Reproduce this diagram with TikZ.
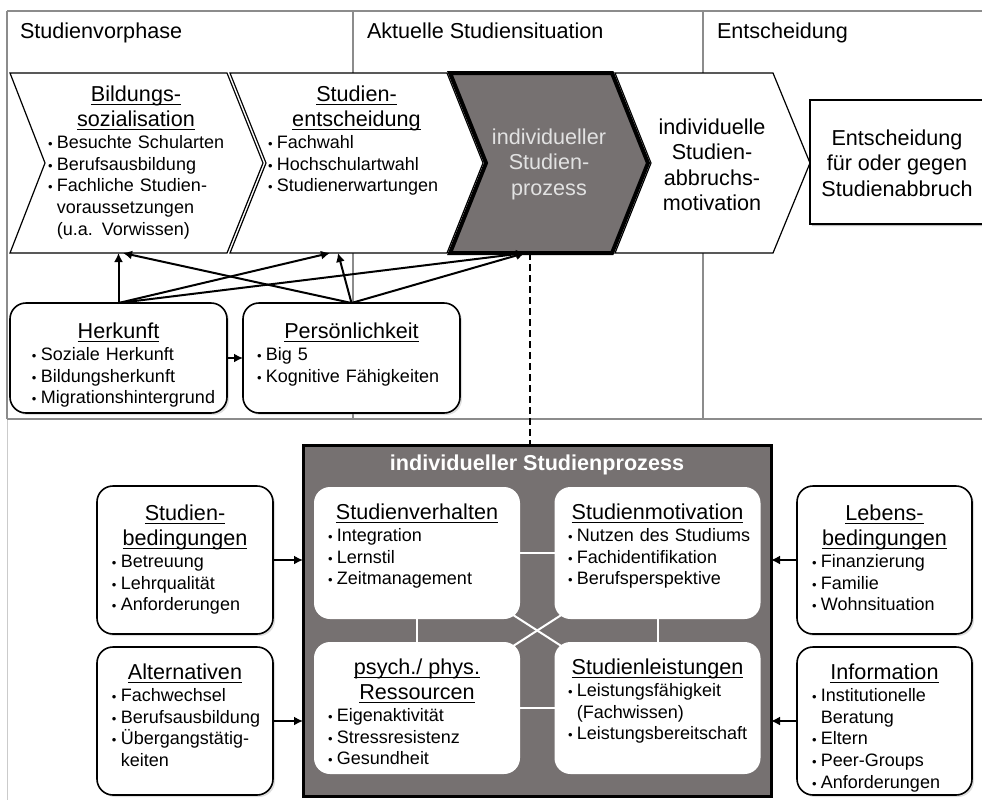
\documentclass[tikz,border=0pt]{standalone}
\usepackage{fontspec}
\setmainfont{Liberation Sans}
\usetikzlibrary{arrows.meta,shadows}

\definecolor{procgray}{HTML}{767171}
\definecolor{framegray}{HTML}{8C8C8C}
\definecolor{proctext}{HTML}{E2E2E2}

\newcommand\itemfont{\fontsize{9}{10.85}\selectfont}
\newcommand\headfont{\fontsize{10.8}{12.75}\selectfont}
\newcommand\blt{{\fontsize{6.5}{6}\selectfont\textbullet}\hspace{2.2pt}}
\newcommand\itm[1]{\mbox{\blt#1}}
\newcommand\cont[1]{\mbox{\phantom{\blt}#1}}
\newcommand\ul[1]{\setbox0\hbox{#1}\rlap{\rule[-1.5pt]{\wd0}{0.5pt}}\box0}
\newcommand\hd[1]{\makebox[\linewidth]{\headfont\ul{#1}}}

\begin{document}
\begin{tikzpicture}[x=0.5pt,y=-0.5pt,
  every node/.style={inner sep=0pt,outer sep=0pt},
  phase/.style={draw=framegray,line width=1.2pt},
  phaselabel/.style={anchor=base west,font=\headfont},
  chev/.style={draw,line width=0.6pt,fill=white,line join=miter},
  curchev/.style={draw,line width=2pt,fill=procgray,line join=miter},
  rbox/.style={draw,line width=0.8pt,fill=white,rounded corners=8pt,
    drop shadow={shadow xshift=1pt,shadow yshift=-1pt,opacity=.25}},
  wbox/.style={fill=white,rounded corners=8pt,minimum width=103pt,minimum height=66pt},
  bigbox/.style={draw,line width=1.5pt,fill=procgray,minimum width=234pt,minimum height=175.5pt},
  content/.style={anchor=north,align=left,font=\itemfont},
  midtext/.style={align=center,font=\headfont},
  conn/.style={line width=1pt,-{Latex[length=4.5pt,width=4.5pt]}},
  link/.style={white,line width=1pt}]
\fill[white] (0,0) rectangle (982,800);
\useasboundingbox (0,0) rectangle (982,800);

% phases
\draw[phase] (7,11) -- (990,11);
\draw[phase] (7,11) -- (7,419);
\draw[phase] (7,419) -- (990,419);
\draw[phase] (353,11) -- (353,419);
\draw[phase] (703,11) -- (703,419);
\draw[framegray!45,line width=0.5pt] (7,420) -- (7,800);
\node[phaselabel] (vorph) at (20,38) {Studienvorphase};
\node[phaselabel] (aktph) at (367,38) {Aktuelle Studiensituation};
\node[phaselabel] (entph) at (717,38) {Entscheidung};

% chevrons
\draw[chev] (10,73) -- (227,73) -- (263,163) -- (227,253) -- (10,253) -- (45,163) -- cycle;
\draw[chev] (230,73) -- (447,73) -- (483,163) -- (447,253) -- (230,253) -- (266,163) -- cycle;
\draw[curchev] (450,73) -- (612,73) -- (648,163) -- (612,253) -- (450,253) -- (486,163) -- cycle;
\draw[chev] (615,73) -- (773,73) -- (810,163) -- (773,253) -- (615,253) -- (651,163) -- cycle;

\node[content,text width=88pt] (bildtxt) at (136,86)
  {\hd{Bildungs-}\\[1.7pt] \hd{sozialisation}\\
   \itm{Besuchte Schularten}\\ \itm{Berufsausbildung}\\ \itm{Fachliche Studien-}\\
   \cont{voraussetzungen}\\ \cont{(u.a. Vorwissen)}};
\node[content,text width=88.5pt] (enttxt) at (356.5,86)
  {\hd{Studien-}\\[1.7pt] \hd{entscheidung}\\
   \itm{Fachwahl}\\ \itm{Hochschulartwahl}\\ \itm{Studienerwartungen}};
\node[midtext,text=proctext] (proctxt) at (549,164) {individueller\\Studien-\\prozess};
\node[midtext] (motivtxt) at (712,165) {individuelle\\Studien-\\abbruchs-\\motivation};
\fill[black!25] (812,226) -- (1010,226) -- (1010,102) -- (811,102) -- cycle;
\fill[white] (810,100) rectangle (1010,224);
\draw[line width=0.8pt] (1010,100) -- (810,100) -- (810,224) -- (1010,224);
\node[midtext] (dectxt) at (897,163) {Entscheidung\\für oder gegen\\Studienabbruch};

% background factors
\node[rbox,minimum width=108.5pt,minimum height=55pt] (herk) at (118.5,358) {};
\node[rbox,minimum width=108.5pt,minimum height=55pt] (pers) at (351.5,358) {};
\node[content,text width=86.5pt] (herktxt) at (118.5,323)
  {\hd{Herkunft}\\ \itm{Soziale Herkunft}\\ \itm{Bildungsherkunft}\\ \itm{Migrationshintergrund}};
\node[content,text width=94.5pt] (perstxt) at (351.5,323)
  {\hd{Persönlichkeit}\\ \itm{Big 5}\\ \itm{Kognitive Fähigkeiten}};

\coordinate (bildin) at (118.5,253);
\coordinate (bildin2) at (123,253);
\coordinate (entin) at (330,253);
\coordinate (entin2) at (338,253);
\coordinate (procin) at (525,253);
\coordinate (procout) at (530,253);
\draw[conn] (herk.north) -- (bildin);
\draw[conn] (herk.north) -- (entin);
\draw[conn] (herk.north) -- (procin);
\draw[conn] (pers.north) -- (bildin2);
\draw[conn] (pers.north) -- (entin2);
\draw[conn] (pers.north) -- (procin);
\draw[conn] (herk.east) -- (pers.west);

% individual study process
\node[bigbox] (proc) at (537,620.5) {};
\draw[line width=1pt,dash pattern=on 3.5pt off 2pt] (procout) -- (procout |- proc.north);
\node[anchor=base,font=\headfont\bfseries,text=white] (proctitle) at (537,470)
  {individueller Studienprozess};

\coordinate (sv) at (417,553);
\coordinate (sm) at (657.5,553);
\coordinate (pr) at (417,708);
\coordinate (sl) at (657.5,708);
\draw[link] (sv) -- (sm);
\draw[link] (pr) -- (sl);
\draw[link] (sv) -- (pr);
\draw[link] (sm) -- (sl);
\draw[link] (sv) -- (sl);
\draw[link] (sm) -- (pr);
\node[wbox] (verh) at (sv) {};
\node[wbox] (motiv) at (sm) {};
\node[wbox] (ress) at (pr) {};
\node[wbox] (leist) at (sl) {};
\node[content,text width=89pt] (verhtxt) at (417,504)
  {\hd{Studienverhalten}\\ \itm{Integration}\\ \itm{Lernstil}\\ \itm{Zeitmanagement}};
\node[content,text width=89.5pt] (motivtxt2) at (657.5,504)
  {\hd{Studienmotivation}\\ \itm{Nutzen des Studiums}\\ \itm{Fachidentifikation}\\ \itm{Berufsperspektive}};
\node[content,text width=89pt] (resstxt) at (417,659)
  {\hd{psych./ phys.}\\[1.7pt] \hd{Ressourcen}\\ \itm{Eigenaktivität}\\ \itm{Stressresistenz}\\ \itm{Gesundheit}};
\node[content,text width=89.5pt] (leisttxt) at (657.5,659)
  {\hd{Studienleistungen}\\ \itm{Leistungsfähigkeit}\\ \cont{(Fachwissen)}\\ \itm{Leistungsbereitschaft}};

% outer conditions
\node[rbox,minimum width=88pt,minimum height=74pt] (bed) at (185,560) {};
\node[rbox,minimum width=88pt,minimum height=74pt] (alt) at (185,721) {};
\node[rbox,minimum width=87.5pt,minimum height=74pt] (leb) at (884.5,560) {};
\node[rbox,minimum width=87.5pt,minimum height=74pt] (info) at (884.5,721) {};
\node[content,text width=73pt] (bedtxt) at (185,505)
  {\hd{Studien-}\\[1.7pt] \hd{bedingungen}\\ \itm{Betreuung}\\ \itm{Lehrqualität}\\ \itm{Anforderungen}};
\node[content,text width=73pt] (alttxt) at (185,664)
  {\hd{Alternativen}\\ \itm{Fachwechsel}\\ \itm{Berufsausbildung}\\ \itm{Übergangstätig-}\\ \cont{keiten}};
\node[content,text width=72.5pt] (lebtxt) at (884.5,505)
  {\hd{Lebens-}\\[1.7pt] \hd{bedingungen}\\ \itm{Finanzierung}\\ \itm{Familie}\\ \itm{Wohnsituation}};
\node[content,text width=72.5pt] (infotxt) at (884.5,664)
  {\hd{Information}\\ \itm{Institutionelle}\\ \cont{Beratung}\\ \itm{Eltern}\\ \itm{Peer-Groups}\\ \itm{Anforderungen}};
\draw[conn] (bed.east) -- (bed.east -| proc.west);
\draw[conn] (alt.east) -- (alt.east -| proc.west);
\draw[conn] (leb.west) -- (leb.west -| proc.east);
\draw[conn] (info.west) -- (info.west -| proc.east);
\end{tikzpicture}
\end{document}
